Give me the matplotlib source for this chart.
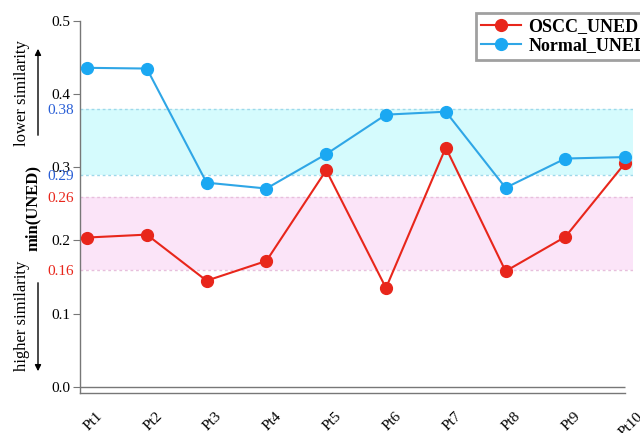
import matplotlib
matplotlib.use("Agg")
import matplotlib.pyplot as plt
import matplotlib.transforms as mtrans
import numpy as np

plt.rcParams['font.family'] = ['Liberation Serif', 'DejaVu Serif']

patients = ["Pt1", "Pt2", "Pt3", "Pt4", "Pt5", "Pt6", "Pt7", "Pt8", "Pt9", "Pt10"]
oscc = [0.204, 0.208, 0.145, 0.172, 0.296, 0.135, 0.327, 0.158, 0.205, 0.306]
normal = [0.436, 0.435, 0.279, 0.271, 0.318, 0.372, 0.376, 0.272, 0.312, 0.314]

normal_band = (0.29, 0.38)
oscc_band = (0.16, 0.26)

red = "#e8261b"
blue = "#2fa6e6"

fig = plt.figure(figsize=(6.4, 4.33), dpi=100)
ax = fig.add_axes([0.125, 0.0924, 0.864, 0.8591])

x = np.arange(len(patients))
xmin, xmax = -0.117, 9.13
ax.set_xlim(xmin, xmax)
ax.set_ylim(-0.0085, 0.5)

# shaded ranges
ax.axhspan(normal_band[0], normal_band[1], color="#d5fbfd", zorder=0, lw=0)
ax.axhspan(oscc_band[0], oscc_band[1], color="#fbe4f8", zorder=0, lw=0)
for v in normal_band:
    ax.axhline(v, color="#9fd8ea", ls=(0, (2, 2)), lw=1.0, zorder=1)
for v in oscc_band:
    ax.axhline(v, color="#e7bfdc", ls=(0, (2, 2)), lw=1.0, zorder=1)

ax.hlines(0, xmin, 9, color="#777777", lw=1.0, zorder=1)

ax.plot(x, oscc, '-o', color=red, lw=1.5, ms=8.5, label="OSCC_UNED", zorder=3)
ax.plot(x, normal, '-o', color=blue, lw=1.5, ms=8.5, label="Normal_UNED", zorder=3,
        markerfacecolor="#1ba8f2", markeredgecolor="#1ba8f2")

# spines
for s in ["top", "right"]:
    ax.spines[s].set_visible(False)
ax.spines["left"].set_color("#777777")
ax.spines["bottom"].set_color("#777777")
ax.spines["bottom"].set_bounds(xmin, 9)
ax.spines["left"].set_linewidth(1.0)
ax.spines["bottom"].set_linewidth(1.0)

# y ticks
ax.set_yticks([0.0, 0.1, 0.2, 0.3, 0.4, 0.5])
ax.set_yticklabels(["0.0", "0.1", "0.2", "0.3", "0.4", "0.5"])
ax.tick_params(axis='y', which='major', length=5, color="#777777", labelsize=11, pad=2)
band_ticks = [oscc_band[0], oscc_band[1], normal_band[0], normal_band[1]]
ax.set_yticks(band_ticks, minor=True)
ax.set_yticklabels(["0.16", "0.26", "0.29", "0.38"], minor=True)
ax.tick_params(axis='y', which='minor', length=0, labelsize=11, pad=4)
for lab, c in zip(ax.get_yticklabels(minor=True), [red, red, "#2a5fd6", "#2a5fd6"]):
    lab.set_color(c)

# x ticks: labels on every patient, marks on every second one
ax.set_xticks(x)
ax.set_xticklabels(patients, rotation=45, ha='center', fontsize=11)
ax.set_xticks(x[::2], minor=True)
ax.tick_params(axis='x', which='major', length=0, pad=12)
ax.tick_params(axis='x', which='minor', length=5, color="#777777")
offset = mtrans.ScaledTranslation(6 / 100, 0, fig.dpi_scale_trans)
for lab in ax.get_xticklabels():
    lab.set_transform(lab.get_transform() + offset)

# y label and similarity arrows
fig.text(33 / 640, 1 - 208 / 433, "min(UNED)", rotation=90, ha='center', va='center',
         fontsize=12, fontweight='bold')
fig.text(22 / 640, 1 - 93 / 433, "lower similarity", rotation=90, ha='center', va='center',
         fontsize=12)
fig.text(22 / 640, 1 - 316 / 433, "higher similarity", rotation=90, ha='center', va='center',
         fontsize=12)
fig.add_artist(matplotlib.patches.FancyArrowPatch(
    (38 / 640, 1 - 138 / 433), (38 / 640, 1 - 46 / 433), transform=fig.transFigure,
    arrowstyle='-|>', mutation_scale=9, color='black', lw=1.0))
fig.add_artist(matplotlib.patches.FancyArrowPatch(
    (38 / 640, 1 - 280 / 433), (38 / 640, 1 - 374 / 433), transform=fig.transFigure,
    arrowstyle='-|>', mutation_scale=9, color='black', lw=1.0))

leg = ax.legend(loc='upper left', bbox_to_anchor=(476 / 640, 1 - 13 / 433),
                bbox_transform=fig.transFigure, frameon=True, fancybox=False,
                prop={'weight': 'bold', 'size': 13}, borderpad=0.3, labelspacing=0.1,
                handlelength=2.2, handletextpad=0.4, borderaxespad=0)
leg.get_frame().set_edgecolor("#888888")
leg.get_frame().set_linewidth(2.0)

fig.savefig("out.png", dpi=100)
